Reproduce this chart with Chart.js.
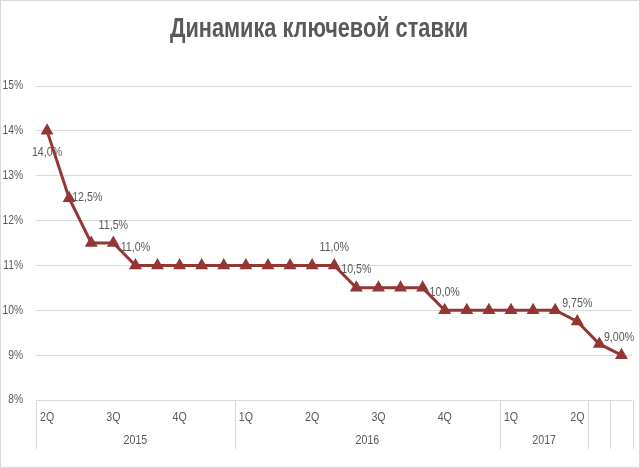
<!DOCTYPE html>
<html>
<head>
<meta charset="utf-8">
<script src="https://cdn.jsdelivr.net/npm/chart.js@4"></script>
<style>
  html, body { margin: 0; padding: 0; background: #fff; }
  #wrap { width: 640px; height: 468px; }
</style>
</head>
<body>
<div id="wrap"><canvas id="rate"></canvas></div>
<script>
// key rate, one point per step on the category axis
const rateValues = [14, 12.5, 11.5, 11.5, 11, 11, 11, 11, 11, 11, 11, 11, 11, 11,
  10.5, 10.5, 10.5, 10.5, 10, 10, 10, 10, 10, 10, 9.75, 9.25, 9];
const rateLabels = ['14,0%', '12,5%', '', '11,5%', '11,0%', '', '', '', '', '', '', '', '', '11,0%',
  '10,5%', '', '', '', '10,0%', '', '', '', '', '', '9,75%', '', '9,00%'];

// multi level category axis: quarters and years
const quarterNames = ['2Q', '3Q', '4Q', '1Q', '2Q', '3Q', '4Q', '1Q', '2Q'];
const quarterStart = [0, 3, 6, 9, 12, 15, 18, 21, 24];
const yearNames = ['2015', '2016', '2017', '', ''];
const yearStart = [0, 9, 21, 25, 26];
const yearEnd = [8, 20, 24, 25, 26];

const yTicks = [8, 9, 10, 11, 12, 13, 14, 15];

const titleText = 'Динамика ключевой ставки';

const categories = rateValues.map((v, i) => 'p' + i);

const gray = '#595959';
const lineGray = '#d9d9d9';

// where each value label sits relative to its point
const labelSide = {0: 'below', 1: 'right'};

// Arial Narrow look: Liberation Sans squeezed sideways
function narrowText(ctx, txt, x, y, align, size, weight, squeeze) {
  squeeze = squeeze || 0.82;
  ctx.save();
  ctx.font = (weight || 'normal') + ' ' + size + 'px "Liberation Sans", Arial, sans-serif';
  ctx.textBaseline = 'middle';
  const w = ctx.measureText(txt).width * squeeze;
  let left = x;
  if (align == 'center') left = x - w / 2;
  if (align == 'right') left = x - w;
  ctx.translate(left, y);
  ctx.scale(squeeze, 1);
  ctx.textAlign = 'left';
  ctx.fillText(txt, 0, 0);
  ctx.restore();
  return w;
}

const frame = {
  id: 'frame',
  beforeDraw(chart) {
    const ctx = chart.ctx;
    ctx.save();
    ctx.fillStyle = '#fff';
    ctx.fillRect(0, 0, chart.width, chart.height);
    ctx.strokeStyle = lineGray;
    ctx.lineWidth = 1;
    ctx.strokeRect(0.5, 0.5, chart.width - 1, chart.height - 1);
    ctx.restore();
  }
};

//title, y tick labels, quarter / year labels and group separators
const axisText = {
  id: 'axisText',
  afterDraw(chart) {
    const ctx = chart.ctx;
    const x = chart.scales.x;
    const y = chart.scales.y;
    const top = chart.chartArea.bottom;
    const half = (x.getPixelForValue(1) - x.getPixelForValue(0)) / 2;
    ctx.save();
    ctx.fillStyle = gray;

    // title squeezed to the reference width
    ctx.font = 'bold 28px "Liberation Sans", Arial, sans-serif';
    const tw = ctx.measureText(titleText).width;
    narrowText(ctx, titleText, 319, 29, 'center', 28, 'bold', 298 / tw);

    y.ticks.forEach(t => {
      narrowText(ctx, t.value + '%', 23, y.getPixelForValue(t.value), 'right', 12.5);
    });

    ctx.strokeStyle = lineGray;
    ctx.lineWidth = 1;
    let edges = yearStart.map(s => x.getPixelForValue(s) - half);
    edges.push(x.getPixelForValue(yearEnd[yearEnd.length - 1]) + half);
    edges.forEach(e => {
      ctx.beginPath();
      ctx.moveTo(Math.round(e) + 0.5, top);
      ctx.lineTo(Math.round(e) + 0.5, top + 49);
      ctx.stroke();
    });
    for (let i = 0; i < quarterNames.length; i++) {
      narrowText(ctx, quarterNames[i], x.getPixelForValue(quarterStart[i]) - half + 4, top + 17, 'left', 13);
    }
    for (let i = 0; i < yearNames.length; i++) {
      const a = x.getPixelForValue(yearStart[i]) - half;
      const b = x.getPixelForValue(yearEnd[i]) + half;
      if (yearNames[i]) narrowText(ctx, yearNames[i], (a + b) / 2, top + 40, 'center', 13);
    }
    ctx.restore();
  }
};

//value labels next to the points
const valueLabels = {
  id: 'valueLabels',
  afterDatasetsDraw(chart) {
    const ctx = chart.ctx;
    const pts = chart.getDatasetMeta(0).data;
    ctx.save();
    ctx.fillStyle = gray;
    pts.forEach((p, i) => {
      const txt = rateLabels[i];
      if (!txt) return;
      const side = labelSide[i] || 'above';
      let tx = p.x, ty = p.y - 18, align = 'center';
      if (side == 'below') { ty = p.y + 22; }
      if (side == 'right') { align = 'left'; tx = p.x + 3; ty = p.y - 1; }
      if (align == 'center' && tx + 15 > chart.width - 6) tx = chart.width - 21;
      narrowText(ctx, txt, tx, ty, align, 13);
    });
    ctx.restore();
  }
};

const ctx = document.querySelector('#rate').getContext('2d');
const rateChart = new Chart(ctx, {
  type: 'line',
  data: {
    labels: categories,
    datasets: [{
      data: rateValues,
      borderColor: '#943634',
      backgroundColor: '#943634',
      borderWidth: 3,
      pointStyle: 'triangle',
      pointRadius: 4.5,
      pointHoverRadius: 4.5,
      tension: 0
    }]
  },
  options: {
    responsive: true,
    maintainAspectRatio: false,
    animation: false,
    layout: { padding: { left: 0, right: 7, top: 86, bottom: 0 } },
    plugins: {
      legend: { display: false },
      tooltip: { enabled: false },
      title: { display: false }
    },
    scales: {
      x: {
        type: 'category',
        offset: true,
        grid: { display: false },
        border: { display: false },
        ticks: { display: false },
        afterFit: function(scale) { scale.height = 68; }
      },
      y: {
        min: 8,
        max: 15,
        afterBuildTicks: function(scale) { scale.ticks = yTicks.map(v => ({ value: v })); },
        grid: { color: lineGray, drawTicks: false },
        border: { display: false },
        ticks: { display: false },
        afterFit: function(scale) { scale.width = 36; }
      }
    }
  },
  plugins: [frame, axisText, valueLabels]
});
</script>
</body>
</html>
